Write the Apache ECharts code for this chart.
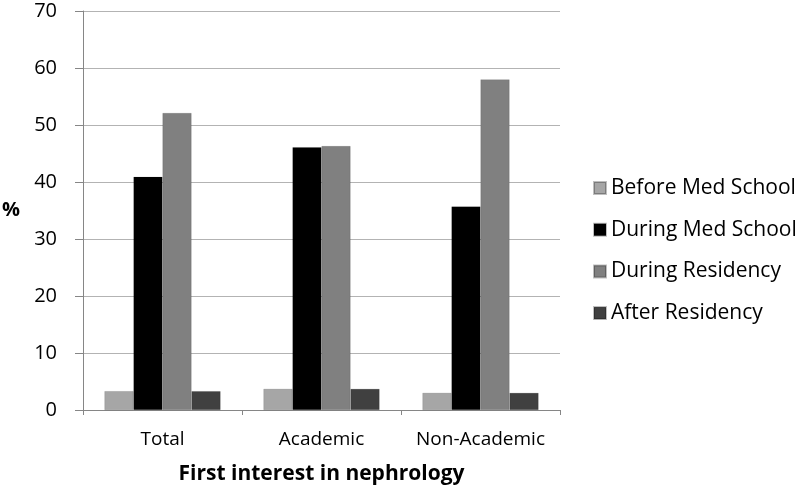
<!DOCTYPE html>
<html><head><meta charset="utf-8">
<script src="https://cdn.jsdelivr.net/npm/echarts@6/dist/echarts.min.js"></script>
<style>html,body{margin:0;padding:0;background:#fff}#c{width:812px;height:487px}</style>
</head><body><div id="c"></div>
<script>
const categories = ['Total', 'Academic', 'Non-Academic'];
const seriesNames = ['Before Med School', 'During Med School', 'During Residency', 'After Residency'];
const beforeMed = [3.3, 3.7, 3.0];
const duringMed = [40.9, 46.1, 35.7];
const duringRes = [52.1, 46.3, 58.0];
const afterRes = [3.3, 3.7, 3.0];
const yTicks = [0, 10, 20, 30, 40, 50, 60, 70];
const colors = ['#a6a6a6', '#000000', '#808080', '#404040'];
const font = 'Open Sans';

const chart = echarts.init(document.getElementById('c'));
const dataSets = [beforeMed, duringMed, duringRes, afterRes];
chart.setOption({
  animation: false,
  grid: {left: 83, right: 252, top: 11, bottom: 77, containLabel: false, outerBoundsMode: 'none'},
  legend: {
    orient: 'vertical', left: 588, top: 172, itemGap: 19.7,
    itemWidth: 12, itemHeight: 12, icon: 'rect',
    textStyle: {fontFamily: font, fontSize: 21, lineHeight: 22, color: '#000', padding: [0,0,0,0]},
    data: seriesNames
  },
  xAxis: {
    type: 'category', data: categories,
    axisLine: {lineStyle: {color: '#868686', width: 1}},
    axisTick: {show: true, length: 5, lineStyle: {color: '#868686'}},
    axisLabel: {fontFamily: font, fontSize: 19, color: '#000', margin: 20, interval: 0, hideOverlap: false},
    name: 'First interest in nephrology', nameLocation: 'middle', nameGap: 54,
    nameTextStyle: {fontFamily: font, fontSize: 21, fontWeight: 'bold', color: '#000'}
  },
  yAxis: {
    type: 'value', min: 0, max: 70, interval: 10,
    axisLine: {show: true, lineStyle: {color: '#868686'}},
    axisTick: {show: true, inside: false, length: 8, lineStyle: {color: '#868686'}},
    splitLine: {lineStyle: {color: '#b3b3b3', width: 1}},
    axisLabel: {fontFamily: font, fontSize: 20, color: '#000', margin: 26,
      formatter: v => yTicks.includes(v) ? String(v) : ''},
    name: '%', nameLocation: 'middle', nameRotate: 0, nameGap: 63,
    nameTextStyle: {fontFamily: font, fontSize: 20, fontWeight: 'bold', color: '#000'}
  },
  series: seriesNames.map((n, i) => ({
    name: n, type: 'bar', data: dataSets[i],
    barGap: '0%', barCategoryGap: '27%',
    itemStyle: {color: colors[i], borderColor: 'rgba(0,0,0,0.25)', borderWidth: 0.5}
  }))
});
</script></body></html>
